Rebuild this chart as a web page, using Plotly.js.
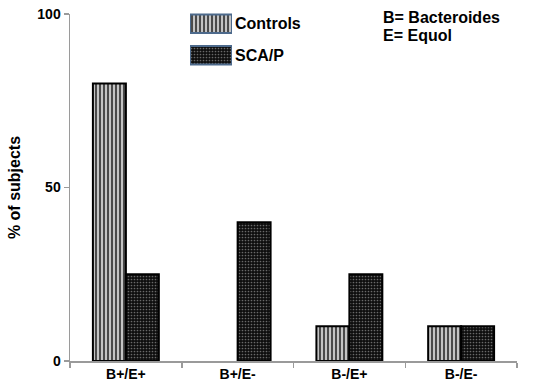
<!DOCTYPE html>
<html>
<head>
<meta charset="utf-8">
<script src="https://cdn.plot.ly/plotly-3.0.1.min.js"></script>
<style>html,body{margin:0;padding:0;background:#fff;}#chart{width:550px;height:388px;}</style>
</head>
<body>
<div id="chart"></div>
<script>
const categories = ["B+/E+", "B+/E-", "B-/E+", "B-/E-"];
const controls = [80, 0, 10, 10];
const scap = [25, 40, 25, 10];
const seriesNames = ["Controls", "SCA/P"];
const yTicks = [0, 50, 100];
const noteLines = ["B= Bacteroides", "E= Equol"];

const FONT = "Liberation Sans, Arial, sans-serif";
const ctrlPattern = {shape: "|", fgcolor: "#3c3c3c", bgcolor: "#c4c4c4", size: 4, solidity: 0.45, fillmode: "replace"};
const scaPattern = {shape: ".", fgcolor: "#6a6a6a", bgcolor: "#0e0e0e", size: 3, solidity: 0.25, fillmode: "replace"};
const outline = vals => vals.map(v => (v > 0 ? 2 : 0));

const traces = [
  {type: "bar", name: seriesNames[0], x: categories, y: controls,
   marker: {color: "#c4c4c4", pattern: ctrlPattern, line: {color: "#000", width: outline(controls)}}, showlegend: false},
  {type: "bar", name: seriesNames[1], x: categories, y: scap,
   marker: {color: "#0e0e0e", pattern: scaPattern, line: {color: "#000", width: outline(scap)}}, showlegend: false},
  // legend swatches
  {type: "bar", orientation: "h", x: [1], y: [seriesNames[0]], xaxis: "x2", yaxis: "y2",
   marker: {color: "#c4c4c4", pattern: ctrlPattern, line: {color: "#4d6a8c", width: 2}}, showlegend: false, hoverinfo: "skip"},
  {type: "bar", orientation: "h", x: [1], y: [seriesNames[1]], xaxis: "x2", yaxis: "y2",
   marker: {color: "#0e0e0e", pattern: scaPattern, line: {color: "#4d6a8c", width: 2}}, showlegend: false, hoverinfo: "skip"}
];

const layout = {
  width: 550, height: 388,
  margin: {l: 70, r: 33, t: 5, b: 27},
  paper_bgcolor: "#fff", plot_bgcolor: "rgba(0,0,0,0)",
  font: {family: FONT, size: 14, color: "#000", weight: "bold"},
  barmode: "group", bargap: 0.41, bargroupgap: 0,
  xaxis: {
    domain: [0, 1], showline: true, linecolor: "#9a9a9a", linewidth: 1.5,
    ticks: "outside", tickson: "boundaries", ticklen: 5, tickcolor: "#9a9a9a", tickwidth: 1.5,
    ticklabelstandoff: 0,
    tickfont: {family: FONT, size: 14, color: "#000", weight: "bold"},
    showgrid: false, zeroline: false, fixedrange: true
  },
  yaxis: {
    domain: [0, 0.9747], range: [0, 100], tickvals: yTicks, ticktext: yTicks.map(String),
    showline: true, linecolor: "#9a9a9a", linewidth: 1.5,
    ticks: "outside", ticklen: 5, tickcolor: "#9a9a9a", tickwidth: 1.5,
    tickfont: {family: FONT, size: 14, color: "#000", weight: "bold"},
    showgrid: false, zeroline: false,
    title: {text: "% of subjects", font: {family: FONT, size: 16, color: "#000", weight: "bold"}, standoff: 12}
  },
  xaxis2: {domain: [0.2685, 0.3624], anchor: "y2", range: [0, 1], visible: false, fixedrange: true},
  yaxis2: {domain: [0.8146, 0.9916], anchor: "x2", side: "right", autorange: "reversed",
    showline: false, showgrid: false, zeroline: false, ticks: "", ticklabelstandoff: 2,
    tickfont: {family: FONT, size: 16, color: "#000", weight: "bold"}, fixedrange: true},
  annotations: noteLines.map((t, i) => ({
    text: t, xref: "paper", yref: "paper", x: 0.6957, y: [0.966, 0.9157][i],
    xanchor: "left", yanchor: "middle", showarrow: false,
    font: {family: FONT, size: 16, color: "#000", weight: "bold"}
  }))
};

Plotly.newPlot("chart", traces, layout, {displayModeBar: false, staticPlot: true});
</script>
</body>
</html>
